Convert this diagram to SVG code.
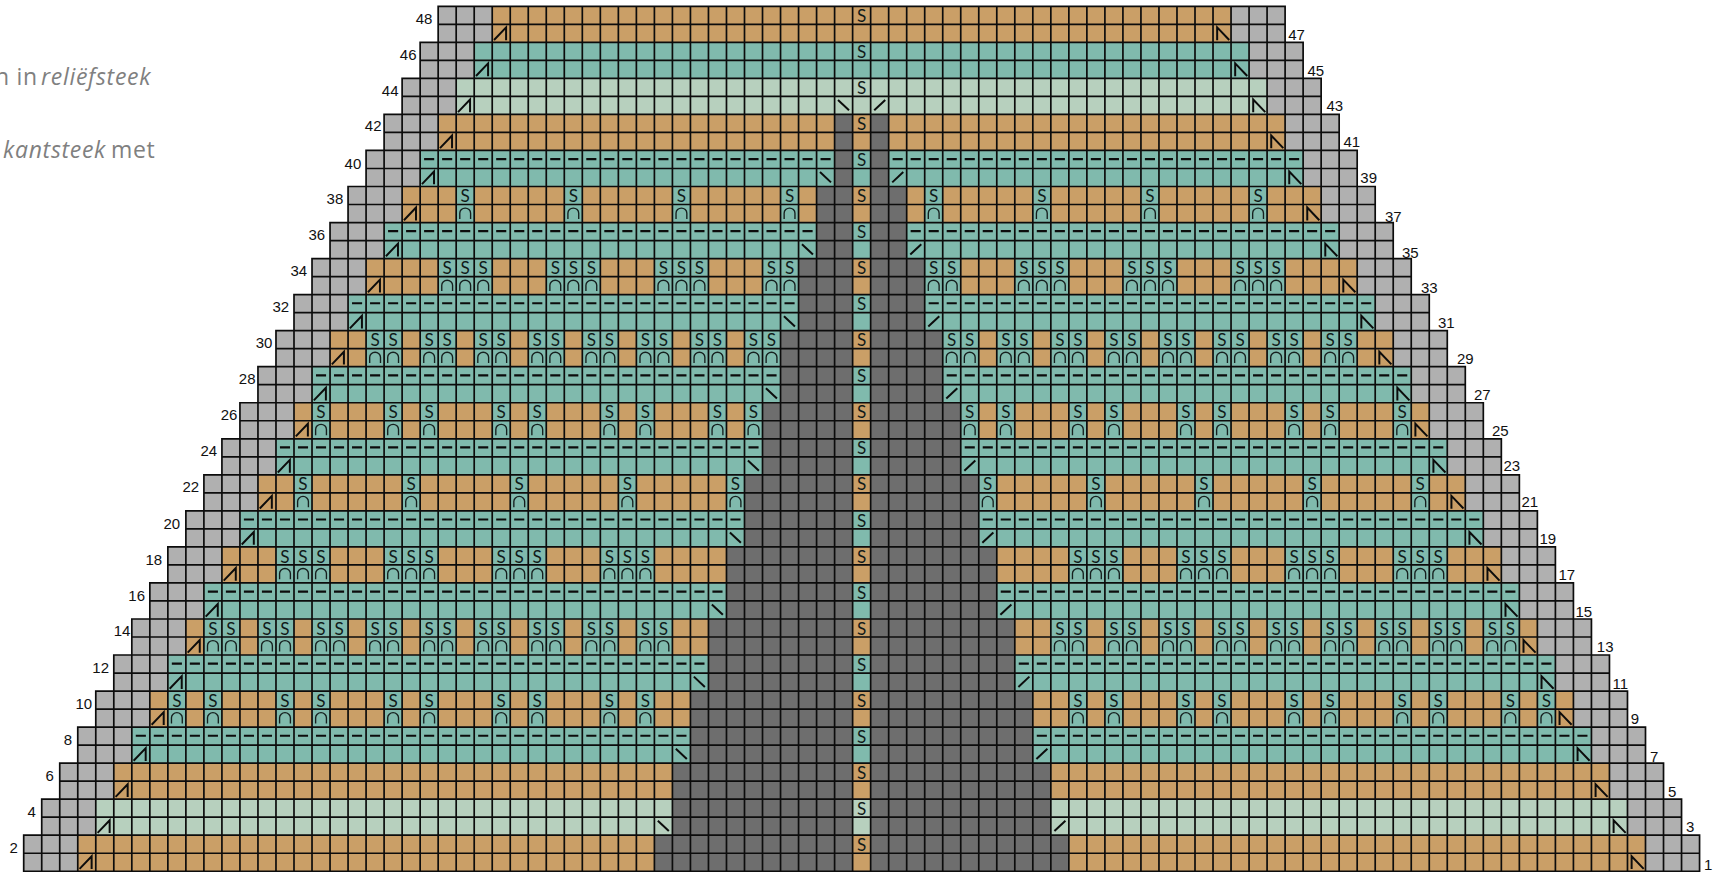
<svg xmlns="http://www.w3.org/2000/svg" width="1723" height="872" viewBox="0 0 1723 872">
<style>
.o{fill:#ca9f67}.t{fill:#80baad}.l{fill:#b7d0be}.g{fill:#b0b0b0}.d{fill:#6e6e6e}
.grid{fill:none;stroke:#0c0c0c;stroke-width:.094;stroke-linecap:square}
.m{fill:none;stroke:#0c0c0c;stroke-width:.11}
.dash{fill:none;stroke:#0c0c0c;stroke-width:.12;stroke-dasharray:.56 .44}
.arch{fill:none;stroke:#16201f;stroke-width:.075}
.s text{font-family:Lato,"Open Sans",sans-serif;font-size:.95px;fill:#101a19;text-anchor:middle}
.nl,.nr{font-family:"Liberation Sans",Arial,sans-serif;font-size:15px;fill:#111}
.nl{text-anchor:end}
.note{font-family:"Open Sans","Noto Sans",sans-serif;font-size:23px;letter-spacing:.7px;fill:#808080}
</style>
<defs>
<g id="a"><rect class="t" width="1" height="2"/><path class="arch" d="M.2 1.8V1.48A.3 .28 0 0 1 .8 1.48V1.8"/></g>
<path id="el" class="m" d="M.1 .87L.77 .17V.88"/>
<path id="er" class="m" d="M.9 .87L.23 .17V.88"/>
<path id="il" class="m" d="M.19 .2L.8 .77"/>
<path id="ir" class="m" d="M.2 .77L.81 .2"/>
</defs>
<rect width="1723" height="872" fill="#fff"/>
<text class="note" x="-5" y="85">n in <tspan x="41" font-style="italic">reliëfsteek</tspan></text>
<text class="note" x="3" y="158"><tspan font-style="italic">kantsteek</tspan> <tspan x="111">met</tspan></text>
<g id="chart" transform="translate(23.7,6.3) scale(18.02)">
<g id="bands">
<rect class="o" x="3" y="46" width="87" height="2"/>
<rect class="l" x="4" y="44" width="85" height="2"/>
<rect class="o" x="5" y="42" width="83" height="2"/>
<rect class="t" x="6" y="40" width="81" height="2"/>
<rect class="o" x="7" y="38" width="79" height="2"/>
<rect class="t" x="8" y="36" width="77" height="2"/>
<rect class="o" x="9" y="34" width="75" height="2"/>
<rect class="t" x="10" y="32" width="73" height="2"/>
<rect class="o" x="11" y="30" width="71" height="2"/>
<rect class="t" x="12" y="28" width="69" height="2"/>
<rect class="o" x="13" y="26" width="67" height="2"/>
<rect class="t" x="14" y="24" width="65" height="2"/>
<rect class="o" x="15" y="22" width="63" height="2"/>
<rect class="t" x="16" y="20" width="61" height="2"/>
<rect class="o" x="17" y="18" width="59" height="2"/>
<rect class="t" x="18" y="16" width="57" height="2"/>
<rect class="o" x="19" y="14" width="55" height="2"/>
<rect class="t" x="20" y="12" width="53" height="2"/>
<rect class="o" x="21" y="10" width="51" height="2"/>
<rect class="t" x="22" y="8" width="49" height="2"/>
<rect class="o" x="23" y="6" width="47" height="2"/>
<rect class="l" x="24" y="4" width="45" height="2"/>
<rect class="t" x="25" y="2" width="43" height="2"/>
<rect class="o" x="26" y="0" width="41" height="2"/>
</g>
<path id="grey" class="g" d="M0 46h3v2h-3zM90 46h3v2h-3zM1 44h3v2h-3zM89 44h3v2h-3zM2 42h3v2h-3zM88 42h3v2h-3zM3 40h3v2h-3zM87 40h3v2h-3zM4 38h3v2h-3zM86 38h3v2h-3zM5 36h3v2h-3zM85 36h3v2h-3zM6 34h3v2h-3zM84 34h3v2h-3zM7 32h3v2h-3zM83 32h3v2h-3zM8 30h3v2h-3zM82 30h3v2h-3zM9 28h3v2h-3zM81 28h3v2h-3zM10 26h3v2h-3zM80 26h3v2h-3zM11 24h3v2h-3zM79 24h3v2h-3zM12 22h3v2h-3zM78 22h3v2h-3zM13 20h3v2h-3zM77 20h3v2h-3zM14 18h3v2h-3zM76 18h3v2h-3zM15 16h3v2h-3zM75 16h3v2h-3zM16 14h3v2h-3zM74 14h3v2h-3zM17 12h3v2h-3zM73 12h3v2h-3zM18 10h3v2h-3zM72 10h3v2h-3zM19 8h3v2h-3zM71 8h3v2h-3zM20 6h3v2h-3zM70 6h3v2h-3zM21 4h3v2h-3zM69 4h3v2h-3zM22 2h3v2h-3zM68 2h3v2h-3zM23 0h3v2h-3zM67 0h3v2h-3z"/>
<path id="dark" class="d" d="M35 46H46v2H35zM47 46H58v2H47zM36 44H46v2H36zM47 44H57v2H47zM36 42H46v2H36zM47 42H57v2H47zM37 40H46v2H37zM47 40H56v2H47zM37 38H46v2H37zM47 38H56v2H47zM38 36H46v2H38zM47 36H55v2H47zM38 34H46v2H38zM47 34H55v2H47zM39 32H46v2H39zM47 32H54v2H47zM39 30H46v2H39zM47 30H54v2H47zM40 28H46v2H40zM47 28H53v2H47zM40 26H46v2H40zM47 26H53v2H47zM41 24H46v2H41zM47 24H52v2H47zM41 22H46v2H41zM47 22H52v2H47zM42 20H46v2H42zM47 20H51v2H47zM42 18H46v2H42zM47 18H51v2H47zM43 16H46v2H43zM47 16H50v2H47zM43 14H46v2H43zM47 14H50v2H47zM44 12H46v2H44zM47 12H49v2H47zM44 10H46v2H44zM47 10H49v2H47zM45 8H46v2H45zM47 8H48v2H47zM45 6H46v2H45zM47 6H48v2H47z"/>
<g id="stitches">
<g transform="translate(0,38)"><use href="#a" x="8"/><use href="#a" x="10"/><use href="#a" x="14"/><use href="#a" x="16"/><use href="#a" x="20"/><use href="#a" x="22"/><use href="#a" x="26"/><use href="#a" x="28"/><use href="#a" x="32"/><use href="#a" x="34"/><use href="#a" x="58"/><use href="#a" x="60"/><use href="#a" x="64"/><use href="#a" x="66"/><use href="#a" x="70"/><use href="#a" x="72"/><use href="#a" x="76"/><use href="#a" x="78"/><use href="#a" x="82"/><use href="#a" x="84"/></g>
<g transform="translate(0,34)"><use href="#a" x="10"/><use href="#a" x="11"/><use href="#a" x="13"/><use href="#a" x="14"/><use href="#a" x="16"/><use href="#a" x="17"/><use href="#a" x="19"/><use href="#a" x="20"/><use href="#a" x="22"/><use href="#a" x="23"/><use href="#a" x="25"/><use href="#a" x="26"/><use href="#a" x="28"/><use href="#a" x="29"/><use href="#a" x="31"/><use href="#a" x="32"/><use href="#a" x="34"/><use href="#a" x="35"/><use href="#a" x="57"/><use href="#a" x="58"/><use href="#a" x="60"/><use href="#a" x="61"/><use href="#a" x="63"/><use href="#a" x="64"/><use href="#a" x="66"/><use href="#a" x="67"/><use href="#a" x="69"/><use href="#a" x="70"/><use href="#a" x="72"/><use href="#a" x="73"/><use href="#a" x="75"/><use href="#a" x="76"/><use href="#a" x="78"/><use href="#a" x="79"/><use href="#a" x="81"/><use href="#a" x="82"/></g>
<g transform="translate(0,30)"><use href="#a" x="14"/><use href="#a" x="15"/><use href="#a" x="16"/><use href="#a" x="20"/><use href="#a" x="21"/><use href="#a" x="22"/><use href="#a" x="26"/><use href="#a" x="27"/><use href="#a" x="28"/><use href="#a" x="32"/><use href="#a" x="33"/><use href="#a" x="34"/><use href="#a" x="58"/><use href="#a" x="59"/><use href="#a" x="60"/><use href="#a" x="64"/><use href="#a" x="65"/><use href="#a" x="66"/><use href="#a" x="70"/><use href="#a" x="71"/><use href="#a" x="72"/><use href="#a" x="76"/><use href="#a" x="77"/><use href="#a" x="78"/></g>
<g transform="translate(0,26)"><use href="#a" x="15"/><use href="#a" x="21"/><use href="#a" x="27"/><use href="#a" x="33"/><use href="#a" x="39"/><use href="#a" x="53"/><use href="#a" x="59"/><use href="#a" x="65"/><use href="#a" x="71"/><use href="#a" x="77"/></g>
<g transform="translate(0,22)"><use href="#a" x="16"/><use href="#a" x="20"/><use href="#a" x="22"/><use href="#a" x="26"/><use href="#a" x="28"/><use href="#a" x="32"/><use href="#a" x="34"/><use href="#a" x="38"/><use href="#a" x="40"/><use href="#a" x="52"/><use href="#a" x="54"/><use href="#a" x="58"/><use href="#a" x="60"/><use href="#a" x="64"/><use href="#a" x="66"/><use href="#a" x="70"/><use href="#a" x="72"/><use href="#a" x="76"/></g>
<g transform="translate(0,18)"><use href="#a" x="19"/><use href="#a" x="20"/><use href="#a" x="22"/><use href="#a" x="23"/><use href="#a" x="25"/><use href="#a" x="26"/><use href="#a" x="28"/><use href="#a" x="29"/><use href="#a" x="31"/><use href="#a" x="32"/><use href="#a" x="34"/><use href="#a" x="35"/><use href="#a" x="37"/><use href="#a" x="38"/><use href="#a" x="40"/><use href="#a" x="41"/><use href="#a" x="51"/><use href="#a" x="52"/><use href="#a" x="54"/><use href="#a" x="55"/><use href="#a" x="57"/><use href="#a" x="58"/><use href="#a" x="60"/><use href="#a" x="61"/><use href="#a" x="63"/><use href="#a" x="64"/><use href="#a" x="66"/><use href="#a" x="67"/><use href="#a" x="69"/><use href="#a" x="70"/><use href="#a" x="72"/><use href="#a" x="73"/></g>
<g transform="translate(0,14)"><use href="#a" x="23"/><use href="#a" x="24"/><use href="#a" x="25"/><use href="#a" x="29"/><use href="#a" x="30"/><use href="#a" x="31"/><use href="#a" x="35"/><use href="#a" x="36"/><use href="#a" x="37"/><use href="#a" x="41"/><use href="#a" x="42"/><use href="#a" x="50"/><use href="#a" x="51"/><use href="#a" x="55"/><use href="#a" x="56"/><use href="#a" x="57"/><use href="#a" x="61"/><use href="#a" x="62"/><use href="#a" x="63"/><use href="#a" x="67"/><use href="#a" x="68"/><use href="#a" x="69"/></g>
<g transform="translate(0,10)"><use href="#a" x="24"/><use href="#a" x="30"/><use href="#a" x="36"/><use href="#a" x="42"/><use href="#a" x="50"/><use href="#a" x="56"/><use href="#a" x="62"/><use href="#a" x="68"/></g>
</g>
<path id="grid" class="grid" d="M0 48H93M0 47H93M0 46H93M1 45H92M1 44H92M2 43H91M2 42H91M3 41H90M3 40H90M4 39H89M4 38H89M5 37H88M5 36H88M6 35H87M6 34H87M7 33H86M7 32H86M8 31H85M8 30H85M9 29H84M9 28H84M10 27H83M10 26H83M11 25H82M11 24H82M12 23H81M12 22H81M13 21H80M13 20H80M14 19H79M14 18H79M15 17H78M15 16H78M16 15H77M16 14H77M17 13H76M17 12H76M18 11H75M18 10H75M19 9H74M19 8H74M20 7H73M20 6H73M21 5H72M21 4H72M22 3H71M22 2H71M23 1H70M23 0H70M0 48V46M93 48V46M1 48V44M92 48V44M2 48V42M91 48V42M3 48V40M90 48V40M4 48V38M89 48V38M5 48V36M88 48V36M6 48V34M87 48V34M7 48V32M86 48V32M8 48V30M85 48V30M9 48V28M84 48V28M10 48V26M83 48V26M11 48V24M82 48V24M12 48V22M81 48V22M13 48V20M80 48V20M14 48V18M79 48V18M15 48V16M78 48V16M16 48V14M77 48V14M17 48V12M76 48V12M18 48V10M75 48V10M19 48V8M74 48V8M20 48V6M73 48V6M21 48V4M72 48V4M22 48V2M71 48V2M23 48V0M24 48V0M25 48V0M26 48V0M27 48V0M28 48V0M29 48V0M30 48V0M31 48V0M32 48V0M33 48V0M34 48V0M35 48V0M36 48V0M37 48V0M38 48V0M39 48V0M40 48V0M41 48V0M42 48V0M43 48V0M44 48V0M45 48V0M46 48V0M47 48V0M48 48V0M49 48V0M50 48V0M51 48V0M52 48V0M53 48V0M54 48V0M55 48V0M56 48V0M57 48V0M58 48V0M59 48V0M60 48V0M61 48V0M62 48V0M63 48V0M64 48V0M65 48V0M66 48V0M67 48V0M68 48V0M69 48V0M70 48V0"/>
<path id="dashes" class="dash" d="M6.22 40.48H36.78M56.22 40.48H86.78M8.22 36.48H37.78M55.22 36.48H84.78M10.22 32.48H38.78M54.22 32.48H82.78M12.22 28.48H39.78M53.22 28.48H80.78M14.22 24.48H40.78M52.22 24.48H78.78M16.22 20.48H41.78M51.22 20.48H76.78M18.22 16.48H42.78M50.22 16.48H74.78M20.22 12.48H43.78M49.22 12.48H72.78M22.22 8.48H44.78M48.22 8.48H70.78"/>
<g id="edge-marks">
<use href="#el" x="3" y="47"/><use href="#er" x="89" y="47"/><use href="#el" x="4" y="45"/><use href="#er" x="88" y="45"/><use href="#el" x="5" y="43"/><use href="#er" x="87" y="43"/><use href="#el" x="6" y="41"/><use href="#er" x="86" y="41"/><use href="#el" x="7" y="39"/><use href="#er" x="85" y="39"/><use href="#el" x="8" y="37"/><use href="#er" x="84" y="37"/><use href="#el" x="9" y="35"/><use href="#er" x="83" y="35"/><use href="#el" x="10" y="33"/><use href="#er" x="82" y="33"/><use href="#el" x="11" y="31"/><use href="#er" x="81" y="31"/><use href="#el" x="12" y="29"/><use href="#er" x="80" y="29"/><use href="#el" x="13" y="27"/><use href="#er" x="79" y="27"/><use href="#el" x="14" y="25"/><use href="#er" x="78" y="25"/><use href="#el" x="15" y="23"/><use href="#er" x="77" y="23"/><use href="#el" x="16" y="21"/><use href="#er" x="76" y="21"/><use href="#el" x="17" y="19"/><use href="#er" x="75" y="19"/><use href="#el" x="18" y="17"/><use href="#er" x="74" y="17"/><use href="#el" x="19" y="15"/><use href="#er" x="73" y="15"/><use href="#el" x="20" y="13"/><use href="#er" x="72" y="13"/><use href="#el" x="21" y="11"/><use href="#er" x="71" y="11"/><use href="#el" x="22" y="9"/><use href="#er" x="70" y="9"/><use href="#el" x="23" y="7"/><use href="#er" x="69" y="7"/><use href="#el" x="24" y="5"/><use href="#er" x="68" y="5"/><use href="#el" x="25" y="3"/><use href="#er" x="67" y="3"/><use href="#el" x="26" y="1"/><use href="#er" x="66" y="1"/>
</g>
<g id="inner-marks">
<use href="#il" x="35" y="45"/><use href="#ir" x="57" y="45"/><use href="#il" x="36" y="41"/><use href="#ir" x="56" y="41"/><use href="#il" x="37" y="37"/><use href="#ir" x="55" y="37"/><use href="#il" x="38" y="33"/><use href="#ir" x="54" y="33"/><use href="#il" x="39" y="29"/><use href="#ir" x="53" y="29"/><use href="#il" x="40" y="25"/><use href="#ir" x="52" y="25"/><use href="#il" x="41" y="21"/><use href="#ir" x="51" y="21"/><use href="#il" x="42" y="17"/><use href="#ir" x="50" y="17"/><use href="#il" x="43" y="13"/><use href="#ir" x="49" y="13"/><use href="#il" x="44" y="9"/><use href="#ir" x="48" y="9"/><use href="#il" x="45" y="5"/><use href="#ir" x="47" y="5"/>
</g>
<g class="s">
<g transform="translate(0,38.87)"><text x="8.5">S</text><text x="10.5">S</text><text x="14.5">S</text><text x="16.5">S</text><text x="20.5">S</text><text x="22.5">S</text><text x="26.5">S</text><text x="28.5">S</text><text x="32.5">S</text><text x="34.5">S</text><text x="58.5">S</text><text x="60.5">S</text><text x="64.5">S</text><text x="66.5">S</text><text x="70.5">S</text><text x="72.5">S</text><text x="76.5">S</text><text x="78.5">S</text><text x="82.5">S</text><text x="84.5">S</text></g>
<g transform="translate(0,34.87)"><text x="10.5">S</text><text x="11.5">S</text><text x="13.5">S</text><text x="14.5">S</text><text x="16.5">S</text><text x="17.5">S</text><text x="19.5">S</text><text x="20.5">S</text><text x="22.5">S</text><text x="23.5">S</text><text x="25.5">S</text><text x="26.5">S</text><text x="28.5">S</text><text x="29.5">S</text><text x="31.5">S</text><text x="32.5">S</text><text x="34.5">S</text><text x="35.5">S</text><text x="57.5">S</text><text x="58.5">S</text><text x="60.5">S</text><text x="61.5">S</text><text x="63.5">S</text><text x="64.5">S</text><text x="66.5">S</text><text x="67.5">S</text><text x="69.5">S</text><text x="70.5">S</text><text x="72.5">S</text><text x="73.5">S</text><text x="75.5">S</text><text x="76.5">S</text><text x="78.5">S</text><text x="79.5">S</text><text x="81.5">S</text><text x="82.5">S</text></g>
<g transform="translate(0,30.87)"><text x="14.5">S</text><text x="15.5">S</text><text x="16.5">S</text><text x="20.5">S</text><text x="21.5">S</text><text x="22.5">S</text><text x="26.5">S</text><text x="27.5">S</text><text x="28.5">S</text><text x="32.5">S</text><text x="33.5">S</text><text x="34.5">S</text><text x="58.5">S</text><text x="59.5">S</text><text x="60.5">S</text><text x="64.5">S</text><text x="65.5">S</text><text x="66.5">S</text><text x="70.5">S</text><text x="71.5">S</text><text x="72.5">S</text><text x="76.5">S</text><text x="77.5">S</text><text x="78.5">S</text></g>
<g transform="translate(0,26.87)"><text x="15.5">S</text><text x="21.5">S</text><text x="27.5">S</text><text x="33.5">S</text><text x="39.5">S</text><text x="53.5">S</text><text x="59.5">S</text><text x="65.5">S</text><text x="71.5">S</text><text x="77.5">S</text></g>
<g transform="translate(0,22.87)"><text x="16.5">S</text><text x="20.5">S</text><text x="22.5">S</text><text x="26.5">S</text><text x="28.5">S</text><text x="32.5">S</text><text x="34.5">S</text><text x="38.5">S</text><text x="40.5">S</text><text x="52.5">S</text><text x="54.5">S</text><text x="58.5">S</text><text x="60.5">S</text><text x="64.5">S</text><text x="66.5">S</text><text x="70.5">S</text><text x="72.5">S</text><text x="76.5">S</text></g>
<g transform="translate(0,18.87)"><text x="19.5">S</text><text x="20.5">S</text><text x="22.5">S</text><text x="23.5">S</text><text x="25.5">S</text><text x="26.5">S</text><text x="28.5">S</text><text x="29.5">S</text><text x="31.5">S</text><text x="32.5">S</text><text x="34.5">S</text><text x="35.5">S</text><text x="37.5">S</text><text x="38.5">S</text><text x="40.5">S</text><text x="41.5">S</text><text x="51.5">S</text><text x="52.5">S</text><text x="54.5">S</text><text x="55.5">S</text><text x="57.5">S</text><text x="58.5">S</text><text x="60.5">S</text><text x="61.5">S</text><text x="63.5">S</text><text x="64.5">S</text><text x="66.5">S</text><text x="67.5">S</text><text x="69.5">S</text><text x="70.5">S</text><text x="72.5">S</text><text x="73.5">S</text></g>
<g transform="translate(0,14.87)"><text x="23.5">S</text><text x="24.5">S</text><text x="25.5">S</text><text x="29.5">S</text><text x="30.5">S</text><text x="31.5">S</text><text x="35.5">S</text><text x="36.5">S</text><text x="37.5">S</text><text x="41.5">S</text><text x="42.5">S</text><text x="50.5">S</text><text x="51.5">S</text><text x="55.5">S</text><text x="56.5">S</text><text x="57.5">S</text><text x="61.5">S</text><text x="62.5">S</text><text x="63.5">S</text><text x="67.5">S</text><text x="68.5">S</text><text x="69.5">S</text></g>
<g transform="translate(0,10.87)"><text x="24.5">S</text><text x="30.5">S</text><text x="36.5">S</text><text x="42.5">S</text><text x="50.5">S</text><text x="56.5">S</text><text x="62.5">S</text><text x="68.5">S</text></g>
<g id="centre"><text x="46.5" y="46.87">S</text><text x="46.5" y="44.87">S</text><text x="46.5" y="42.87">S</text><text x="46.5" y="40.87">S</text><text x="46.5" y="38.87">S</text><text x="46.5" y="36.87">S</text><text x="46.5" y="34.87">S</text><text x="46.5" y="32.87">S</text><text x="46.5" y="30.87">S</text><text x="46.5" y="28.87">S</text><text x="46.5" y="26.87">S</text><text x="46.5" y="24.87">S</text><text x="46.5" y="22.87">S</text><text x="46.5" y="20.87">S</text><text x="46.5" y="18.87">S</text><text x="46.5" y="16.87">S</text><text x="46.5" y="14.87">S</text><text x="46.5" y="12.87">S</text><text x="46.5" y="10.87">S</text><text x="46.5" y="8.87">S</text><text x="46.5" y="6.87">S</text><text x="46.5" y="4.87">S</text><text x="46.5" y="2.87">S</text><text x="46.5" y=".87">S</text></g>
</g>
</g>
<g id="row-numbers-left" class="nl">
<text x="17.9" y="853.2">2</text><text x="35.9" y="817.2">4</text><text x="53.9" y="781.2">6</text><text x="72" y="745.1">8</text><text x="92.2" y="709.1">10</text><text x="109" y="673.1">12</text><text x="130.4" y="636">14</text><text x="145" y="601">16</text><text x="162.1" y="565">18</text><text x="180.1" y="528.9">20</text><text x="199.2" y="491.8">22</text><text x="217.2" y="455.7">24</text><text x="237.4" y="419.7">26</text><text x="255.5" y="383.7">28</text><text x="272.4" y="347.6">30</text><text x="289.2" y="311.6">32</text><text x="307.2" y="275.5">34</text><text x="325.2" y="239.5">36</text><text x="343.3" y="203.5">38</text><text x="361.3" y="168.5">40</text><text x="381.5" y="131.4">42</text><text x="398.5" y="96.4">44</text><text x="416.5" y="60.4">46</text><text x="432.4" y="24.4">48</text>
</g>
<g id="row-numbers-right" class="nr">
<text x="1704.1" y="870.4">1</text><text x="1686" y="832.1">3</text><text x="1668" y="797.2">5</text><text x="1649.9" y="762.3">7</text><text x="1630.8" y="724">9</text><text x="1612.6" y="689.1">11</text><text x="1596.8" y="652">13</text><text x="1575.5" y="617">15</text><text x="1558.5" y="579.9">17</text><text x="1539.4" y="543.8">19</text><text x="1521.4" y="506.7">21</text><text x="1503.4" y="470.7">23</text><text x="1492" y="435.7">25</text><text x="1473.9" y="399.7">27</text><text x="1457" y="363.6">29</text><text x="1437.9" y="327.6">31</text><text x="1421" y="292.7">33</text><text x="1401.9" y="257.7">35</text><text x="1384.9" y="221.7">37</text><text x="1360.3" y="183.4">39</text><text x="1343.4" y="147.4">41</text><text x="1326.5" y="111.4">43</text><text x="1307.4" y="75.5">45</text><text x="1288.2" y="40.4">47</text>
</g>
</svg>
